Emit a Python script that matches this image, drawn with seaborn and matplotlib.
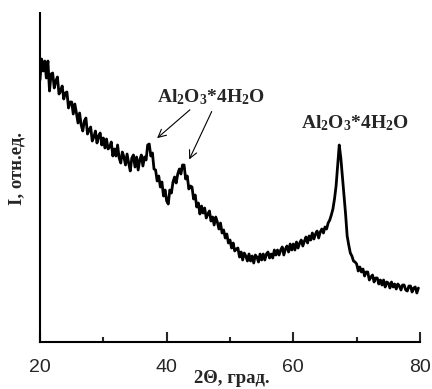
import numpy as np
import pandas as pd
import matplotlib
matplotlib.use("Agg")
import matplotlib.pyplot as plt
import seaborn as sns

# XRD pattern, 2theta step 0.25 deg starting at 20
two_theta = np.arange(20.0, 80.0, 0.25)

intensity = [
    # 20.00 - 24.75
    262, 283, 271, 281, 264, 281, 251, 268, 269, 254, 261, 265, 248, 251, 256, 243, 249, 250, 234, 240,
    # 25.00 - 29.75
    240, 228, 238, 229, 219, 229, 217, 211, 221, 224, 208, 212, 215, 201, 205, 211, 199, 206, 209, 197,
    # 30.00 - 34.75
    204, 194, 203, 193, 195, 200, 186, 193, 186, 197, 184, 179, 190, 185, 177, 188, 179, 171, 184, 187,
    # 35.00 - 39.75
    175, 185, 172, 182, 187, 176, 185, 182, 197, 198, 186, 189, 173, 172, 161, 166, 155, 160, 146, 152,
    # 40.00 - 44.75
    141, 138, 152, 149, 160, 165, 159, 168, 173, 168, 177, 177, 163, 166, 153, 156, 155, 143, 147, 135,
    # 45.00 - 49.75
    139, 128, 136, 129, 134, 124, 128, 131, 121, 125, 117, 125, 120, 113, 119, 109, 112, 104, 108, 99,
    # 50.00 - 54.75
    102, 94, 99, 91, 93, 94, 85, 90, 82, 89, 86, 81, 88, 81, 86, 79, 87, 85, 80, 88,
    # 55.00 - 59.75
    82, 88, 82, 88, 90, 84, 88, 84, 92, 87, 92, 87, 92, 95, 87, 93, 96, 90, 98, 92,
    # 60.00 - 64.75
    98, 92, 100, 94, 99, 102, 96, 101, 105, 99, 106, 102, 109, 103, 108, 111, 104, 110, 113, 109,
    # 65.00 - 69.75
    115, 113, 119, 122, 127, 133, 143, 156, 176, 197, 184, 165, 146, 128, 106, 97, 89, 86, 81, 80,
    # 70.00 - 74.75
    78, 71, 75, 70, 73, 66, 70, 70, 62, 65, 67, 60, 64, 64, 58, 62, 57, 62, 55, 60,
    # 75.00 - 79.75
    59, 54, 60, 55, 58, 53, 58, 56, 52, 57, 57, 52, 51, 56, 56, 50, 54, 55, 49, 54,
]

x_ticks = [20, 40, 60, 80]
x_minor = [30, 50, 70]
peak_label = r"Al$\mathregular{_2}$O$\mathregular{_3}$*4H$\mathregular{_2}$O"

sns.set_style("ticks")
plt.rcParams["mathtext.default"] = "regular"

df = pd.DataFrame({"two_theta": two_theta, "I": intensity})

fig = plt.figure(figsize=(4.32, 3.89), dpi=100)
ax = fig.add_axes([0.0926, 0.1208, 0.8796, 0.8458])

sns.lineplot(data=df, x="two_theta", y="I", color="black", linewidth=2.0, ax=ax)

ax.set_xlim(20, 80)
ax.set_ylim(0, 329)
ax.set_xticks(x_ticks)
ax.set_xticks(x_minor, minor=True)
ax.set_yticks([])
ax.set_xlabel("")
ax.set_ylabel("")
ax.tick_params(axis="x", which="major", direction="in", length=7, width=1.5,
               labelsize=14, pad=12)
ax.tick_params(axis="x", which="minor", direction="in", length=3.6, width=1.5)
for lab in ax.get_xticklabels():
    lab.set_fontfamily("Liberation Sans")

for side in ["top", "right"]:
    ax.spines[side].set_visible(False)
for side in ["left", "bottom"]:
    ax.spines[side].set_linewidth(1.5)
    ax.spines[side].set_color("black")

serif_bold = dict(family="Liberation Serif", weight="bold")
fig.text(0.537, 1 - 383 / 389, "2Θ, град.", ha="center", va="baseline",
         fontsize=13.5, **serif_bold)
fig.text(0.040, 1 - 169 / 389, "I, отн.ед.", ha="center", va="center",
         rotation=90, fontsize=13.5, **serif_bold)

# peak labels and arrows
ax.text(47.0, 245, peak_label, ha="center", va="center", fontsize=14, **serif_bold)
ax.text(69.74, 219, peak_label, ha="center", va="center", fontsize=14, **serif_bold)
arrow = dict(arrowstyle="->", lw=0.8, color="black", mutation_scale=14)
ax.annotate("", xy=(38.16, 202), xytext=(44.0, 234), arrowprops=arrow)
ax.annotate("", xy=(43.37, 180), xytext=(47.3, 233), arrowprops=arrow)

fig.savefig("out.png", dpi=100)
